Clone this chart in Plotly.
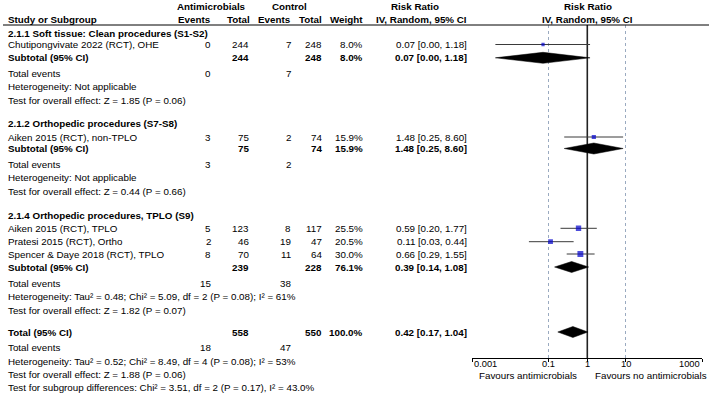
import math
import plotly.graph_objects as go

# ---------------- data ----------------
group_titles = ["2.1.1 Soft tissue: Clean procedures (S1-S2)",
                "2.1.2 Orthopedic procedures (S7-S8)",
                "2.1.4 Orthopedic procedures, TPLO (S9)"]
study_labels = ["Chutipongvivate 2022 (RCT), OHE",
                "Aiken 2015 (RCT), non-TPLO",
                "Aiken 2015 (RCT), TPLO",
                "Pratesi 2015 (RCT), Ortho",
                "Spencer & Daye 2018 (RCT), TPLO"]
study_group = [0, 1, 2, 2, 2]
events_anti = [0, 3, 5, 2, 8]
total_anti = [244, 75, 123, 46, 70]
events_ctrl = [7, 2, 8, 19, 11]
total_ctrl = [248, 74, 117, 47, 64]
weight_pct = [8.0, 15.9, 25.5, 20.5, 30.0]
rr = [0.07, 1.48, 0.59, 0.11, 0.66]
rr_lo = [0.004, 0.25, 0.20, 0.03, 0.29]
rr_hi = [1.18, 8.60, 1.77, 0.44, 1.55]

sub_events_anti = [0, 3, 15]
sub_events_ctrl = [7, 2, 38]
sub_total_anti = [244, 75, 239]
sub_total_ctrl = [248, 74, 228]
sub_weight = [8.0, 15.9, 76.1]
sub_rr = [0.07, 1.48, 0.39]
sub_lo = [0.004, 0.25, 0.14]
sub_hi = [1.18, 8.60, 1.08]
sub_het = ["Heterogeneity: Not applicable",
           "Heterogeneity: Not applicable",
           "Heterogeneity: Tau² = 0.48; Chi² = 5.09, df = 2 (P = 0.08); I² = 61%"]
sub_test = ["Test for overall effect: Z = 1.85 (P = 0.06)",
            "Test for overall effect: Z = 0.44 (P = 0.66)",
            "Test for overall effect: Z = 1.82 (P = 0.07)"]

tot_events_anti = 18
tot_events_ctrl = 47
tot_total_anti = 558
tot_total_ctrl = 550
tot_weight = 100.0
tot_rr = 0.42
tot_lo = 0.17
tot_hi = 1.04
tot_het = "Heterogeneity: Tau² = 0.52; Chi² = 8.49, df = 4 (P = 0.08); I² = 53%"
tot_test = "Test for overall effect: Z = 1.88 (P = 0.06)"
subgroup_test = "Test for subgroup differences: Chi² = 3.51, df = 2 (P = 0.17), I² = 43.0%"

tick_values = [0.001, 0.1, 1, 10, 1000]
tick_labels = ["0.001", "0.1", "1", "10", "1000"]
favours_left = "Favours antimicrobials"
favours_right = "Favours no antimicrobials"

# ---------------- layout (pixel positions) ----------------
W, H = 709, 395
FONT = "Liberation Sans, Arial, sans-serif"
FS = 9.8
FS_AX = 9.3
sec_header_y = [33, 123, 215]
study_y = [44.5, 137, 228.3, 241.7, 254]
sub_y = [57.8, 148.5, 267]
te_y = [73, 164.5, 283]
het_y = [86.5, 178, 296.5]
test_y = [100, 191, 310]
total_y, total_te_y, total_het_y, total_test_y, subgroup_y = 332, 347.5, 361, 374, 387

X_LABEL = 6
X_EV_A, X_TOT_A, X_EV_C, X_TOT_C, X_W, X_RR = 213, 251, 293, 324, 365, 469
PLOT_L, PLOT_R = 472.3, 702.3
AX_TOP, AX_BOT = 25, 358

fig = go.Figure()
ann = []


def yp(px):
    return 1 - px / H


def txt(x, y, s, anchor="left", bold=False, size=FS):
    ann.append(dict(x=x / W, y=yp(y), xref="paper", yref="paper", text=("<b>%s</b>" % s) if bold else s,
                    showarrow=False, xanchor=anchor, yanchor="middle",
                    font=dict(family=FONT, size=size, color="black")))


def fmt_rr(a, b, c):
    return "%.2f [%.2f, %.2f]" % (a, b, c)


# header
txt(211, 7, "Antimicrobials", "center", True)
txt(289, 7, "Control", "center", True)
txt(415, 7, "Risk Ratio", "center", True)
txt(587.5, 7, "Risk Ratio", "center", True)
txt(X_LABEL, 19, "Study or Subgroup", "left", True)
txt(X_EV_A, 19, "Events", "right", True)
txt(X_TOT_A + 1, 19, "Total", "right", True)
txt(X_EV_C, 19, "Events", "right", True)
txt(X_TOT_C, 19, "Total", "right", True)
txt(X_W, 19, "Weight", "right", True)
txt(X_RR, 19, "IV, Random, 95% CI", "right", True)
txt(587, 19, "IV, Random, 95% CI", "center", True)

# sections
for g in range(3):
    txt(X_LABEL, sec_header_y[g], group_titles[g], bold=True)
    txt(X_LABEL, sub_y[g], "Subtotal (95% CI)", bold=True)
    txt(X_TOT_A, sub_y[g], str(sub_total_anti[g]), "right", True)
    txt(X_TOT_C, sub_y[g], str(sub_total_ctrl[g]), "right", True)
    txt(X_W, sub_y[g], "%.1f%%" % sub_weight[g], "right", True)
    txt(X_RR, sub_y[g], fmt_rr(sub_rr[g], sub_lo[g], sub_hi[g]), "right", True)
    txt(X_LABEL, te_y[g], "Total events")
    txt(X_EV_A, te_y[g], str(sub_events_anti[g]), "right")
    txt(X_EV_C, te_y[g], str(sub_events_ctrl[g]), "right")
    txt(X_LABEL, het_y[g], sub_het[g])
    txt(X_LABEL, test_y[g], sub_test[g])

for i in range(len(study_labels)):
    y = study_y[i]
    txt(X_LABEL, y, study_labels[i])
    txt(X_EV_A, y, str(events_anti[i]), "right")
    txt(X_TOT_A, y, str(total_anti[i]), "right")
    txt(X_EV_C, y, str(events_ctrl[i]), "right")
    txt(X_TOT_C, y, str(total_ctrl[i]), "right")
    txt(X_W, y, "%.1f%%" % weight_pct[i], "right")
    txt(X_RR, y, fmt_rr(rr[i], rr_lo[i], rr_hi[i]), "right")

# overall
txt(X_LABEL, total_y, "Total (95% CI)", bold=True)
txt(X_TOT_A, total_y, str(tot_total_anti), "right", True)
txt(X_TOT_C, total_y, str(tot_total_ctrl), "right", True)
txt(X_W, total_y, "%.1f%%" % tot_weight, "right", True)
txt(X_RR, total_y, fmt_rr(tot_rr, tot_lo, tot_hi), "right", True)
txt(X_LABEL, total_te_y, "Total events")
txt(X_EV_A, total_te_y, str(tot_events_anti), "right")
txt(X_EV_C, total_te_y, str(tot_events_ctrl), "right")
txt(X_LABEL, total_het_y, tot_het)
txt(X_LABEL, total_test_y, tot_test)
txt(X_LABEL, subgroup_y, subgroup_test)

# axis tick labels (custom anchoring like the original)
for k, (v, lab) in enumerate(zip(tick_values, tick_labels)):
    anchor = "left" if k == 0 else ("right" if k == len(tick_values) - 1 else "center")
    ann.append(dict(x=math.log10(v), y=yp(363.5), xref="x", yref="paper", text=lab, showarrow=False,
                    xanchor=anchor, yanchor="middle", font=dict(family=FONT, size=FS_AX, color="black")))
ann.append(dict(x=math.log10(0.6), y=yp(375.5), xref="x", yref="paper", text=favours_left, showarrow=False,
                xanchor="right", yanchor="middle", font=dict(family=FONT, size=FS_AX + 0.5, color="black")))
ann.append(dict(x=math.log10(1.45), y=yp(375.5), xref="x", yref="paper", text=favours_right, showarrow=False,
                xanchor="left", yanchor="middle", font=dict(family=FONT, size=FS_AX + 0.5, color="black")))

# vertical line of no effect
fig.add_trace(go.Scatter(x=[1, 1], y=[AX_TOP, AX_BOT], mode="lines",
                         line=dict(color="#222222", width=1.6), hoverinfo="skip", showlegend=False))

# whiskers
wx, wy = [], []
for i in range(len(rr)):
    wx += [rr_lo[i], rr_hi[i], None]
    wy += [study_y[i], study_y[i], None]
fig.add_trace(go.Scatter(x=wx, y=wy, mode="lines", line=dict(color="#3a3a3a", width=1),
                         hoverinfo="skip", showlegend=False))
# squares
fig.add_trace(go.Scatter(x=rr, y=study_y, mode="markers",
                         marker=dict(symbol="square", color="#0000cc",
                                     size=[2.3 + w * 0.12 for w in weight_pct], line=dict(width=0)),
                         hoverinfo="skip", showlegend=False))

# diamonds
HALF = 5.5
for c, lo, hi, y in list(zip(sub_rr, sub_lo, sub_hi, sub_y)) + [(tot_rr, tot_lo, tot_hi, total_y)]:
    fig.add_trace(go.Scatter(x=[lo, c, hi, c, lo], y=[y, y - HALF, y, y + HALF, y], mode="lines",
                             fill="toself", fillcolor="black", line=dict(color="black", width=0.5),
                             hoverinfo="skip", showlegend=False))

fig.update_layout(
    width=W, height=H, margin=dict(l=0, r=0, t=0, b=0),
    paper_bgcolor="white", plot_bgcolor="white",
    annotations=ann,
    shapes=[dict(type="line", xref="paper", yref="paper", x0=3 / W, x1=1, y0=yp(25), y1=yp(25),
                 line=dict(color="black", width=1))],
    xaxis=dict(type="log", range=[-3, 3], domain=[PLOT_L / W, PLOT_R / W],
               showline=True, linecolor="black", linewidth=1,
               ticks="outside", ticklen=3, tickcolor="black", tickvals=tick_values,
               showticklabels=False, showgrid=True, gridcolor="#9aaac0", griddash="dot", gridwidth=1,
               zeroline=False, fixedrange=True),
    yaxis=dict(range=[AX_BOT, AX_TOP], domain=[yp(AX_BOT), yp(AX_TOP)], visible=False,
               showgrid=False, zeroline=False, fixedrange=True),
    showlegend=False,
)

fig.write_html("out.html")
